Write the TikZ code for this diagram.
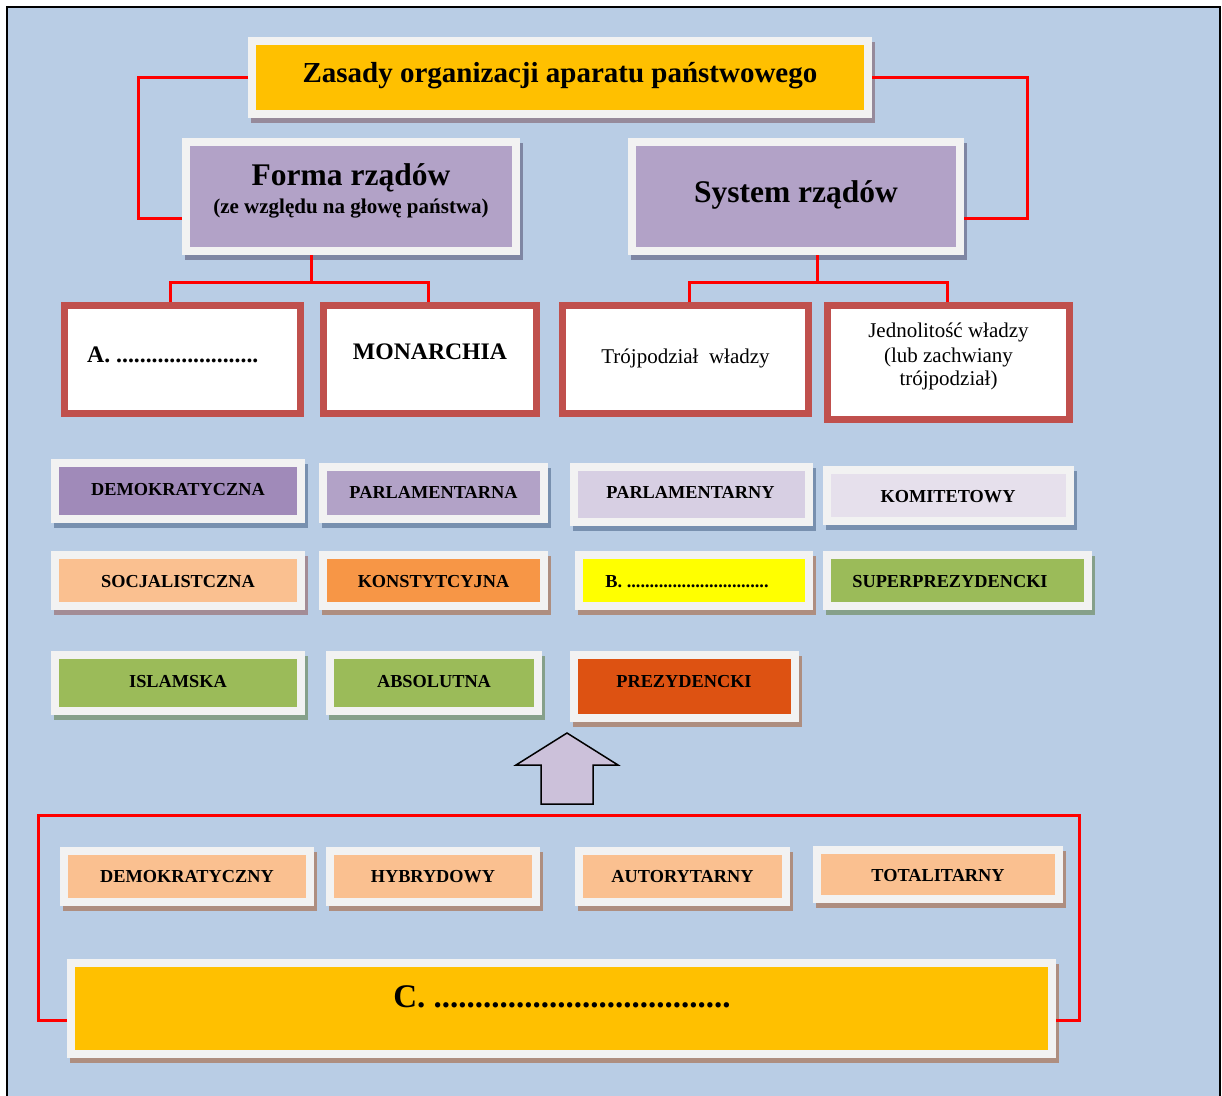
\documentclass[tikz,border=0pt]{standalone}
\usepackage{fontspec}
\setmainfont{Liberation Serif}
\definecolor{bgblue}{HTML}{B9CDE5}
\definecolor{frameW}{HTML}{F2F2F2}
\definecolor{gold}{HTML}{FFC000}
\definecolor{purp}{HTML}{B2A2C7}
\definecolor{purpD}{HTML}{A08AB9}
\definecolor{purpL}{HTML}{D7CFE3}
\definecolor{purpXL}{HTML}{E6E0EC}
\definecolor{peach}{HTML}{FAC090}
\definecolor{orangeC}{HTML}{F79646}
\definecolor{yellowC}{HTML}{FFFF00}
\definecolor{greenC}{HTML}{9BBB59}
\definecolor{redorange}{HTML}{DD5212}
\definecolor{boxred}{HTML}{C0504D}
\definecolor{lineRed}{HTML}{FF0000}
\definecolor{arrowc}{HTML}{CCC1DA}
\definecolor{shT}{HTML}{968A9B}
\definecolor{shF}{HTML}{7F86A3}
\definecolor{shP}{HTML}{7890AF}
\definecolor{shO}{HTML}{AE8E80}
\definecolor{shM}{HTML}{A38C96}
\definecolor{shG}{HTML}{86A08A}
\newcommand{\kbox}[7]{%
  \fill[#7] ({#2+3},{#3+5}) rectangle ({#4+3},{#5+5});
  \node[frm, fill=#6, minimum width={(#4-#2-8)*1pt}, minimum height={(#5-#3-8)*1pt}] (#1) at ({(#2+#4)/2},{(#3+#5)/2}) {};}
\begin{document}
\begin{tikzpicture}[x=1pt,y=-1pt,
  frm/.style={draw=frameW, line width=8pt, inner sep=0pt},
  redbox/.style={draw=boxred, line width=7pt, fill=white, inner sep=0pt},
  lbl/.style={inner sep=0pt, anchor=base, font=\bfseries\fontsize{18.3}{22}\selectfont},
  conn/.style={draw=lineRed, line width=3pt}]
\useasboundingbox (0,0) rectangle (1222,1095);
\fill[white] (0,0) rectangle (1222,1095);
\fill[bgblue] (7,7) rectangle (1220,1100);
\draw[line width=2pt] (7,1100) -- (7,7) -- (1220,7) -- (1220,1100);

% top level
\kbox{title}{248}{37}{872}{118}{gold}{shT}
\node[lbl, font=\bfseries\fontsize{29}{34}\selectfont] (title-t) at (560,82) {Zasady organizacji aparatu państwowego};
\kbox{forma}{182}{138}{520}{255}{purp}{shF}
\node[lbl, font=\bfseries\fontsize{31.5}{36}\selectfont] (forma-t) at (351,185) {Forma rządów};
\node[lbl, font=\bfseries\fontsize{21}{25}\selectfont] (forma-s) at (351,213) {(ze względu na głowę państwa)};
\kbox{system}{628}{138}{964}{255}{purp}{shF}
\node[lbl, font=\bfseries\fontsize{31.5}{36}\selectfont] (system-t) at (796,202) {System rządów};

% red boxes
\node[redbox, minimum width=236pt, minimum height=108pt] (A) at (182.5,359.5) {};
\node[lbl, anchor=base west, font=\bfseries\fontsize{23.7}{28}\selectfont] (A-t) at (87,362) {A. ........................};
\node[redbox, minimum width=213pt, minimum height=108pt] (MON) at (430,359.5) {};
\node[lbl, font=\bfseries\fontsize{23.7}{28}\selectfont] (MON-t) at (430,359) {MONARCHIA};
\node[redbox, minimum width=246pt, minimum height=108pt] (TRO) at (685.5,359.5) {};
\node[lbl, font=\fontsize{21}{25}\selectfont] (TRO-t) at (685.5,363) {Trójpodział\ \ władzy};
\node[redbox, minimum width=242pt, minimum height=114pt] (JED) at (948.5,362.5) {};
\node[lbl, font=\fontsize{21}{25}\selectfont] (JED-t1) at (948.5,337) {Jednolitość władzy};
\node[lbl, font=\fontsize{21}{25}\selectfont] (JED-t2) at (948.5,362) {(lub zachwiany};
\node[lbl, font=\fontsize{21}{25}\selectfont] (JED-t3) at (948.5,385) {trójpodział)};

% row 1
\kbox{demA}{51}{459}{305}{523}{purpD}{shP}
\node[lbl] (demA-t) at (178,495) {DEMOKRATYCZNA};
\kbox{parA}{319}{463}{548}{523}{purp}{shP}
\node[lbl] (parA-t) at (433.5,498) {PARLAMENTARNA};
\kbox{parY}{570}{463}{813}{526}{purpL}{shP}
\node[lbl] (parY-t) at (690.5,498) {PARLAMENTARNY};
\kbox{kom}{823}{466}{1074}{525}{purpXL}{shP}
\node[lbl] (kom-t) at (948,502) {KOMITETOWY};
% row 2
\kbox{soc}{51}{551}{305}{610}{peach}{shM}
\node[lbl] (soc-t) at (178,587) {SOCJALISTCZNA};
\kbox{kon}{319}{551}{548}{610}{orangeC}{shO}
\node[lbl] (kon-t) at (433.5,587) {KONSTYTCYJNA};
\kbox{B}{575}{551}{813}{610}{yellowC}{shO}
\node[lbl] (B-t) at (687,587) {B. ...............................};
\kbox{sup}{823}{551}{1092}{610}{greenC}{shG}
\node[lbl] (sup-t) at (950,587) {SUPERPREZYDENCKI};
% row 3
\kbox{isl}{51}{651}{305}{715}{greenC}{shG}
\node[lbl] (isl-t) at (178,687) {ISLAMSKA};
\kbox{abs}{326}{651}{542}{715}{greenC}{shG}
\node[lbl] (abs-t) at (434,687) {ABSOLUTNA};
\kbox{prez}{570}{651}{799}{722}{redorange}{shO}
\node[lbl] (prez-t) at (684,687) {PREZYDENCKI};

% arrow
\draw[fill=arrowc, line width=1.5pt, line join=miter] (541,804) -- (541,765) -- (516,765) -- (567,733) -- (618,765) -- (593,765) -- (593,804) -- cycle;

% bottom row
\kbox{dem}{60}{847}{314}{906}{peach}{shO}
\node[lbl] (dem-t) at (187,882) {DEMOKRATYCZNY};
\kbox{hyb}{326}{847}{540}{906}{peach}{shO}
\node[lbl] (hyb-t) at (433,882) {HYBRYDOWY};
\kbox{aut}{575}{847}{790}{906}{peach}{shO}
\node[lbl] (aut-t) at (682.5,882) {AUTORYTARNY};
\kbox{tot}{813}{846}{1063}{903}{peach}{shO}
\node[lbl] (tot-t) at (938,881) {TOTALITARNY};
\kbox{C}{67}{959}{1056}{1058}{gold}{shO}
\node[lbl, font=\bfseries\fontsize{33}{38}\selectfont] (C-t) at (562,1007) {C. ....................................};

% connectors
\coordinate (tl) at (138,218);
\coordinate (tr) at (1027,218);
\draw[conn] (title.west) -| (tl) -- (tl -| forma.west);
\draw[conn] (title.east) -| (tr) -- (tr -| system.east);
\coordinate (fb) at (311,282);
\coordinate (fa) at (170,282);
\coordinate (fm) at (428.5,282);
\draw[conn] (fb |- forma.south) -- (fb);
\draw[conn] (fa |- A.north) -- (fa) -- (fm) -- (fm |- MON.north);
\coordinate (sb) at (817,282);
\coordinate (st) at (689,282);
\coordinate (sj) at (947.5,282);
\draw[conn] (sb |- system.south) -- (sb);
\draw[conn] (st |- TRO.north) -- (st) -- (sj) -- (sj |- JED.north);
\coordinate (bl) at (38,815);
\coordinate (br) at (1079,815);
\coordinate (by) at (0,1020);
\draw[conn] (C.west |- by) -| (bl) -- (br) |- (C.east |- by);
\end{tikzpicture}
\end{document}
